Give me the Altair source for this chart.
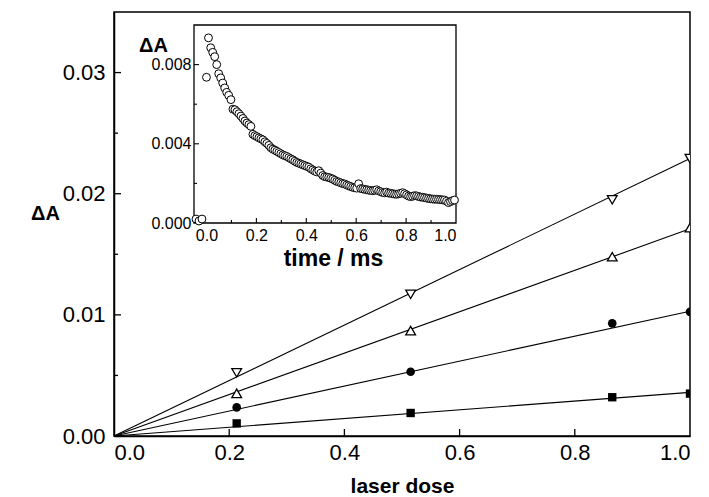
import altair as alt
import pandas as pd

# ---------------- data ----------------
dose_x = [0.213, 0.515, 0.865, 1.0]
series_names = ["down", "up", "circle", "square"]
vals_down = [0.00522, 0.0117, 0.0195, 0.0229]
vals_up = [0.00352, 0.0087, 0.0148, 0.0172]
vals_circle = [0.00236, 0.0053, 0.0093, 0.01025]
vals_square = [0.00104, 0.0019, 0.0032, 0.0035]
fit_slopes = [0.0229, 0.0171, 0.0103, 0.0036]

inset_t = [-0.042, -0.030, -0.018,
           0.000, 0.008, 0.017, 0.025, 0.033, 0.041, 0.049, 0.057, 0.065, 0.073,
           0.081, 0.089, 0.098, 0.106, 0.114, 0.122, 0.130, 0.138, 0.146, 0.154,
           0.162, 0.170, 0.178, 0.186, 0.194, 0.202, 0.210, 0.218, 0.226, 0.234,
           0.242, 0.250, 0.258, 0.266, 0.274, 0.282, 0.290, 0.298, 0.306, 0.314,
           0.322, 0.330, 0.338, 0.346, 0.354, 0.362, 0.370, 0.378, 0.386, 0.394,
           0.402, 0.410, 0.418, 0.426, 0.434, 0.442, 0.450, 0.458, 0.466, 0.474,
           0.482, 0.490, 0.498, 0.506, 0.514, 0.522, 0.530, 0.538, 0.546, 0.554,
           0.562, 0.570, 0.578, 0.586, 0.594, 0.602, 0.610, 0.618, 0.626, 0.634,
           0.642, 0.650, 0.658, 0.666, 0.674, 0.682, 0.690, 0.698, 0.706, 0.714,
           0.722, 0.730, 0.738, 0.746, 0.754, 0.762, 0.770, 0.778, 0.786, 0.794,
           0.802, 0.810, 0.818, 0.826, 0.834, 0.842, 0.850, 0.858, 0.866, 0.874,
           0.882, 0.890, 0.898, 0.906, 0.914, 0.922, 0.930, 0.938, 0.946, 0.954,
           0.962, 0.970, 0.978, 0.986, 0.994]
inset_v = [0.0002, 0.0001, 0.0002,
           0.00736, 0.00935, 0.00885, 0.00862, 0.00840, 0.00800, 0.00754, 0.00733, 0.00707, 0.00682,
           0.00660, 0.00645, 0.00623, 0.00575, 0.00572, 0.00562, 0.00552, 0.00540, 0.00528, 0.00515,
           0.00505, 0.00497, 0.00488, 0.00448, 0.00441, 0.00436, 0.00430, 0.00425, 0.00420, 0.00410,
           0.00402, 0.00392, 0.00380, 0.00373, 0.00368, 0.00362, 0.00356, 0.00350, 0.00344, 0.00340,
           0.00336, 0.00330, 0.00324, 0.00319, 0.00312, 0.00306, 0.00302, 0.00298, 0.00294, 0.00290,
           0.00286, 0.00282, 0.00274, 0.00268, 0.00262, 0.00258, 0.00264, 0.00252, 0.00240, 0.00234,
           0.00232, 0.00230, 0.00226, 0.00222, 0.00216, 0.00210, 0.00207, 0.00203, 0.00199, 0.00197,
           0.00192, 0.00188, 0.00184, 0.00180, 0.00178, 0.00176, 0.00198, 0.00174, 0.00172, 0.00170,
           0.00168, 0.00166, 0.00164, 0.00163, 0.00165, 0.00168, 0.00162, 0.00158, 0.00154, 0.00152,
           0.00156, 0.00151, 0.00150, 0.00148, 0.00146, 0.00145, 0.00147, 0.00150, 0.00153, 0.00148,
           0.00142, 0.00136, 0.00133, 0.00135, 0.00138, 0.00137, 0.00134, 0.00131, 0.00130, 0.00128,
           0.00126, 0.00124, 0.00122, 0.00121, 0.00120, 0.00120, 0.00119, 0.00118, 0.00117, 0.00116,
           0.00110, 0.00103, 0.00108, 0.00113, 0.00116]

main_x_ticks = [0.0, 0.2, 0.4, 0.6, 0.8, 1.0]
main_y_ticks = [0.00, 0.01, 0.02, 0.03]
main_x_major = [0.2, 0.4, 0.6, 0.8]
main_y_major = [0.01, 0.02, 0.03]
main_y_minor = [0.005, 0.015, 0.025]
inset_x_ticks = [0.0, 0.2, 0.4, 0.6, 0.8, 1.0]
inset_y_ticks = [0.000, 0.004, 0.008]
inset_x_major = [0.2, 0.4, 0.6, 0.8]
inset_x_minor = [0.1, 0.3, 0.5, 0.7, 0.9]
inset_y_major = [0.004, 0.008]
inset_y_minor = [0.002, 0.006]
inset_x_domain = [-0.05, 1.0]
inset_y_domain = [0.0, 0.010]

FONT = "Liberation Sans"
W, H = 576, 424

# ---------------- tables ----------------
pts = {"down": vals_down, "up": vals_up, "circle": vals_circle, "square": vals_square}
fit_rows = []
for name, s in zip(series_names, fit_slopes):
    fit_rows.append({"series": name, "x": 0.0, "y": 0.0})
    fit_rows.append({"series": name, "x": 1.0, "y": s})
fit_df = pd.DataFrame(fit_rows)
inset_df = pd.DataFrame({"t": inset_t, "v": inset_v})


def xs_main():
    return alt.Scale(domain=[0, 1.0], range=[0, W], nice=False, zero=False)


def ys_main():
    return alt.Scale(domain=[0, 0.035], range=[H, 0], nice=False, zero=False)


def xs_in():
    return alt.Scale(domain=inset_x_domain, range=[80, 342], nice=False, zero=False)


def ys_in():
    return alt.Scale(domain=inset_y_domain, range=[211, 13], nice=False, zero=False)


# ---------------- main chart ----------------
lines = alt.Chart(fit_df).mark_line(color="black", strokeWidth=1.1).encode(
    x=alt.X("x:Q", scale=xs_main(),
            axis=alt.Axis(orient="bottom", values=main_x_ticks, format=".1f", ticks=False,
                          grid=False, labelFontSize=22, labelPadding=6, labelFont=FONT,
                          domainColor="black", domainWidth=1.5, labelColor="black",
                          title="laser dose", titleFont=FONT, titleFontSize=21,
                          titleFontWeight="bold", titleX=288, titleY=50,
                          titleBaseline="middle", titleAlign="center", titleColor="black")),
    y=alt.Y("y:Q", scale=ys_main(),
            axis=alt.Axis(orient="left", values=main_y_ticks, format=".2f", ticks=False,
                          grid=False, labelFontSize=22, labelPadding=9, labelFont=FONT,
                          domainColor="black", domainWidth=1.5, labelColor="black",
                          title="ΔA", titleFont=FONT, titleFontSize=20,
                          titleFontWeight="bold", titleAngle=0, titleX=-69, titleY=201,
                          titleAlign="center", titleBaseline="middle", titleColor="black")),
    detail="series:N",
)


def point_layer(name, shape, filled, size):
    df = pd.DataFrame({"x": dose_x, "y": pts[name]})
    return alt.Chart(df).mark_point(
        shape=shape, filled=filled, size=size, color="black",
        fill="black" if filled else "white", fillOpacity=1,
        strokeWidth=1.3, opacity=1, clip=True,
    ).encode(x=alt.X("x:Q", scale=xs_main(), axis=None),
             y=alt.Y("y:Q", scale=ys_main(), axis=None))


p_down = point_layer("down", "triangle-down", False, 95)
p_up = point_layer("up", "triangle-up", False, 95)
p_circ = point_layer("circle", "circle", True, 75)
p_sq = point_layer("square", "square", True, 70)

t_y_major = alt.Chart(pd.DataFrame({"y": main_y_major})).mark_rule(
    color="black", strokeWidth=1.3).encode(
    y=alt.Y("y:Q", scale=ys_main(), axis=None), x=alt.value(0), x2=alt.value(7))
t_y_minor = alt.Chart(pd.DataFrame({"y": main_y_minor})).mark_rule(
    color="black", strokeWidth=1.3).encode(
    y=alt.Y("y:Q", scale=ys_main(), axis=None), x=alt.value(0), x2=alt.value(4))
t_x_major = alt.Chart(pd.DataFrame({"x": main_x_major})).mark_rule(
    color="black", strokeWidth=1.3).encode(
    x=alt.X("x:Q", scale=xs_main(), axis=None), y=alt.value(H), y2=alt.value(H - 7))

# ---------------- inset ----------------
frame = alt.Chart(pd.DataFrame({"x": [inset_x_domain[0]], "x2": [inset_x_domain[1]],
                                "y": [inset_y_domain[0]], "y2": [inset_y_domain[1]]})).mark_rect(
    fill="white", stroke="black", strokeWidth=1.3).encode(
    x=alt.X("x:Q", scale=xs_in(), axis=None), x2="x2:Q",
    y=alt.Y("y:Q", scale=ys_in(), axis=None), y2="y2:Q")

inset_pts = alt.Chart(inset_df).mark_point(
    shape="circle", size=62, color="black", fill="white", filled=False,
    fillOpacity=1, strokeWidth=1.0, opacity=1).encode(
    x=alt.X("t:Q", scale=xs_in(),
            axis=alt.Axis(orient="bottom", offset=-(H - 211), values=inset_x_ticks,
                          format=".1f", ticks=False, grid=False, domain=False,
                          labelFontSize=16, labelPadding=4, labelFont=FONT,
                          labelColor="black", title="time / ms", titleFont=FONT,
                          titleFontSize=23, titleFontWeight="bold", titleX=219, titleY=35,
                          titleBaseline="middle", titleAlign="center", titleColor="black")),
    y=alt.Y("v:Q", scale=ys_in(),
            axis=alt.Axis(orient="left", offset=-80, values=inset_y_ticks, format=".3f",
                          ticks=False, grid=False, domain=False, labelFontSize=16,
                          labelPadding=3, labelFont=FONT, labelColor="black",
                          title="ΔA", titleFont=FONT, titleFontSize=20,
                          titleFontWeight="bold", titleAngle=0, titleX=-41, titleY=33,
                          titleAlign="center", titleBaseline="middle", titleColor="black")),
)

it_x_major = alt.Chart(pd.DataFrame({"x": inset_x_major})).mark_rule(
    color="black", strokeWidth=1.1).encode(
    x=alt.X("x:Q", scale=xs_in(), axis=None), y=alt.value(211), y2=alt.value(206))
it_x_minor = alt.Chart(pd.DataFrame({"x": inset_x_minor})).mark_rule(
    color="black", strokeWidth=1.1).encode(
    x=alt.X("x:Q", scale=xs_in(), axis=None), y=alt.value(211), y2=alt.value(208))
it_y_major = alt.Chart(pd.DataFrame({"y": inset_y_major})).mark_rule(
    color="black", strokeWidth=1.1).encode(
    y=alt.Y("y:Q", scale=ys_in(), axis=None), x=alt.value(80), x2=alt.value(85))
it_y_minor = alt.Chart(pd.DataFrame({"y": inset_y_minor})).mark_rule(
    color="black", strokeWidth=1.1).encode(
    y=alt.Y("y:Q", scale=ys_in(), axis=None), x=alt.value(80), x2=alt.value(83))

chart = alt.layer(
    lines, p_down, p_up, p_circ, p_sq, t_y_major, t_y_minor, t_x_major,
    frame, inset_pts, it_x_major, it_x_minor, it_y_major, it_y_minor,
).resolve_scale(x="independent", y="independent").properties(
    width=W, height=H,
    padding={"left": 106, "top": 4, "right": 10, "bottom": 62},
    autosize=alt.AutoSizeParams(type="none"),
    background="white",
).configure_view(stroke="black", strokeWidth=1.5)

chart.save("out.html", embed_options={"renderer": "svg", "actions": False})
